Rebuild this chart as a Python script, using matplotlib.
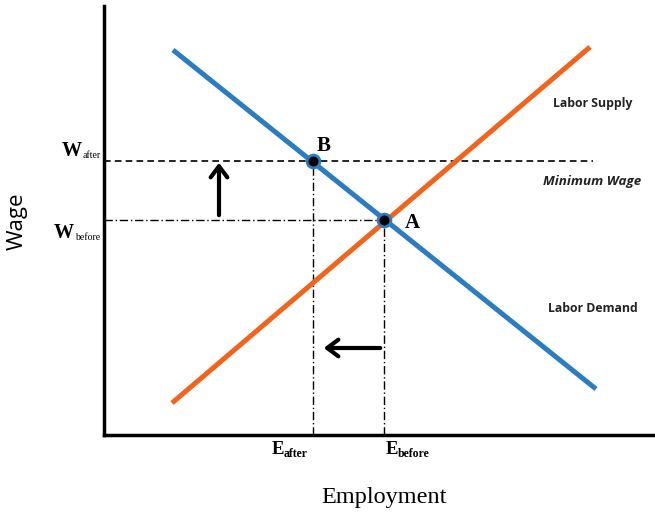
import numpy as np
import matplotlib.pyplot as plt

# data in axis units (0..551 wide, 0..429 tall)
supply_x = [68, 486]
supply_y = [32, 388]
demand_x = [69, 492]
demand_y = [385, 46]
point_a = (280, 215)
point_b = (209, 274)
min_wage_end = 489
wage_labels = [('W', 'after'), ('W', 'before')]
emp_labels = [('E', 'after'), ('E', 'before')]

blue = '#2b7cc0'
orange = '#f0641e'
serif = 'Liberation Serif'

fig = plt.figure(figsize=(6.55, 5.13), dpi=100)
ax = fig.add_axes([104/655, 78/513, 551/655, 429/513])
ax.set_xlim(0, 551)
ax.set_ylim(0, 429)

# guide lines
ax.plot([0, min_wage_end], [point_b[1], point_b[1]], color='black', lw=1.2, ls=(0, (4, 2.5)))
ax.plot([0, point_a[0]], [point_a[1], point_a[1]], color='black', lw=1.0, ls=(0, (6, 2, 1, 2)))
ax.plot([point_b[0], point_b[0]], [0, point_b[1]], color='black', lw=1.0, ls=(0, (6, 2, 1, 2)))
ax.plot([point_a[0], point_a[0]], [0, point_a[1]], color='black', lw=1.0, ls=(0, (6, 2, 1, 2)))

# curves
ax.plot(supply_x, supply_y, color=orange, lw=3.6, solid_capstyle='butt')
ax.plot(demand_x, demand_y, color=blue, lw=3.6, solid_capstyle='butt')

ax.scatter([point_a[0], point_b[0]], [point_a[1], point_b[1]], s=85, c='black',
           edgecolors=blue, linewidths=2, zorder=5)

ax.text(point_b[0] + 11, point_b[1] + 15, 'B', fontsize=15, fontweight='bold',
        family=serif, ha='center', va='center')
ax.text(point_a[0] + 28, point_a[1] - 3, 'A', fontsize=15, fontweight='bold',
        family=serif, ha='center', va='center')

# arrows
ax.annotate('', xy=(115, 275), xytext=(115, 217),
            arrowprops=dict(arrowstyle='->,head_width=0.6,head_length=0.8', color='black', lw=3))
ax.annotate('', xy=(217, 87), xytext=(279, 87),
            arrowprops=dict(arrowstyle='->,head_width=0.6,head_length=0.8', color='black', lw=3))

ax.text(489, 332, 'Labor Supply', fontsize=8.8, fontweight='bold', family='Open Sans',
        ha='center', va='center', color='#222222')
ax.text(488, 253, 'Minimum Wage', fontsize=9.6, fontweight='bold', style='italic',
        family='Open Sans', ha='center', va='center', color='#222222')
ax.text(489, 127, 'Labor Demand', fontsize=8.8, fontweight='bold', family='Open Sans',
        ha='center', va='center', color='#222222')

# wage labels (W with small subscript)
w_pos = [(-22, 279), (-30, 197)]
for (main, sub), (x, y) in zip(wage_labels, w_pos):
    ax.text(x, y, main, fontsize=14.5, fontweight='bold', family=serif,
            ha='right', va='baseline')
    ax.text(x + 1, y - 2, sub, fontsize=7, family=serif, ha='left', va='baseline')

# employment labels
e_pos = [(168, -19), (282, -19)]
for (main, sub), (x, y) in zip(emp_labels, e_pos):
    ax.text(x, y, main, fontsize=13.5, fontweight='bold', family=serif,
            ha='left', va='baseline')
    ax.text(x + 12, y - 3, sub, fontsize=8.5, fontweight='bold', family=serif,
            ha='left', va='baseline')

ax.set_xticks([])
ax.set_yticks([])

fig.text(384/655, 1 - 497/513, 'Employment', fontsize=17.5, family=serif,
         ha='center', va='center')
fig.text(17/655, 1 - 221/513, 'Wage', fontsize=16, family='Open Sans',
         rotation=90, ha='center', va='center')

for s in ['top', 'right']:
    ax.spines[s].set_visible(False)
for s in ['left', 'bottom']:
    ax.spines[s].set_linewidth(2.5)

fig.savefig('out.png', dpi=100)
